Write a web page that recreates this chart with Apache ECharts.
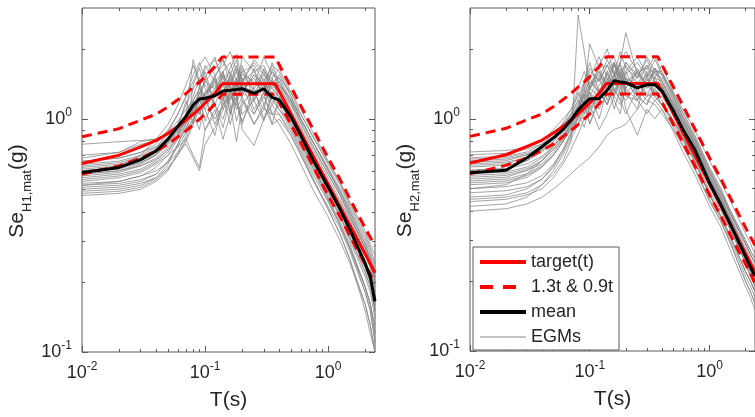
<!DOCTYPE html>
<html><head><meta charset="utf-8">
<script src="https://cdn.jsdelivr.net/npm/echarts@6/dist/echarts.min.js"></script>
<style>html,body{margin:0;padding:0;background:#fff}#c{width:755px;height:417px}</style>
</head><body><div id="c"></div><script>
// ---------- data ----------
const periods = [0.01,0.02,0.03,0.04,0.05,0.06,0.07,0.08,0.09,0.1,0.12,0.14,0.16,0.18,0.2,0.25,0.3,0.35,0.4,0.5,0.6,0.75,1.0,1.25,1.5,2.0,2.2,2.4];
const targetPeriods = [0.01,0.02,0.03,0.04,0.05,0.06,0.07,0.08,0.09,0.1,0.12,0.138,0.37,0.45,0.5,0.6,0.75,1.0,1.25,1.5,2.0,2.4];
const target = [0.645,0.70,0.76,0.81,0.87,0.93,0.99,1.05,1.11,1.17,1.29,1.42,1.42,1.17,1.05,0.875,0.70,0.525,0.42,0.35,0.263,0.219];
const upper  = [0.84,0.91,0.99,1.05,1.13,1.21,1.29,1.37,1.44,1.52,1.68,1.85,1.85,1.52,1.37,1.14,0.91,0.68,0.55,0.455,0.34,0.285];
const lower  = [0.58,0.63,0.68,0.73,0.78,0.84,0.89,0.945,1.0,1.05,1.16,1.28,1.28,1.05,0.945,0.79,0.63,0.47,0.38,0.315,0.237,0.197];
const meanH1 = [0.59,0.62,0.67,0.73,0.82,0.93,1.03,1.15,1.22,1.23,1.26,1.32,1.33,1.34,1.35,1.29,1.35,1.24,1.21,1.02,0.85,0.67,0.51,0.41,0.335,0.24,0.21,0.165];
const meanH2 = [0.585,0.60,0.68,0.76,0.83,0.90,0.99,1.09,1.16,1.22,1.22,1.33,1.46,1.44,1.43,1.36,1.40,1.40,1.32,1.08,0.90,0.74,0.53,0.425,0.35,0.255,0.23,0.21];
const egmH1 = [
 [0.62,0.64,0.68,0.75,0.88,1.05,1.25,1.55,1.75,1.50,1.85,1.40,1.65,1.90,1.45,1.75,1.55,1.40,1.45,1.15,0.92,0.74,0.56,0.45,0.37,0.27,0.23,0.19],
 [0.55,0.57,0.60,0.65,0.72,0.85,1.05,1.80,1.40,1.10,1.30,1.60,1.05,1.50,1.25,1.65,1.15,1.45,1.30,1.00,0.82,0.64,0.46,0.36,0.29,0.19,0.16,0.12],
 [0.70,0.72,0.78,0.80,0.88,0.98,1.10,1.20,1.35,1.70,1.45,1.20,1.55,1.80,1.30,1.20,1.65,1.35,1.55,1.25,1.00,0.80,0.60,0.49,0.40,0.29,0.25,0.21],
 [0.50,0.51,0.53,0.56,0.62,0.70,0.80,0.95,1.10,1.25,0.95,1.15,1.40,0.98,1.20,1.05,1.30,0.95,1.00,0.85,0.70,0.55,0.41,0.32,0.25,0.16,0.13,0.10],
 [0.58,0.60,0.64,0.70,0.80,0.92,1.20,0.95,1.40,1.60,1.15,1.45,1.05,1.35,1.60,1.30,1.10,1.50,1.20,0.95,0.78,0.62,0.47,0.38,0.31,0.22,0.19,0.15],
 [0.64,0.66,0.70,0.76,0.85,0.95,1.00,1.10,1.20,1.10,0.85,1.20,1.50,1.25,0.95,1.40,1.60,1.25,1.15,1.05,0.88,0.70,0.54,0.44,0.36,0.26,0.23,0.18],
 [0.52,0.53,0.55,0.58,0.66,0.78,0.92,1.05,0.90,1.25,1.55,1.10,1.30,1.50,1.70,1.20,1.45,1.05,1.05,0.85,0.70,0.55,0.42,0.34,0.27,0.18,0.15,0.11],
 [0.47,0.48,0.50,0.54,0.60,0.72,0.85,1.40,1.65,1.35,1.15,0.92,1.25,1.15,0.98,1.25,1.40,1.15,1.35,1.15,1.00,0.80,0.62,0.50,0.41,0.30,0.26,0.22],
 [0.60,0.62,0.66,0.72,0.80,0.88,0.98,1.12,1.30,1.45,1.65,1.80,1.40,1.60,1.30,1.55,1.35,1.75,1.40,1.10,0.88,0.68,0.51,0.41,0.33,0.23,0.20,0.16],
 [0.66,0.68,0.72,0.78,0.90,1.05,1.25,1.45,1.70,1.85,1.55,1.70,1.95,1.60,1.45,1.80,1.60,1.50,1.65,1.30,1.05,0.84,0.64,0.52,0.42,0.31,0.27,0.23],
 [0.54,0.56,0.59,0.64,0.70,0.76,0.82,0.70,0.62,0.90,1.10,0.82,1.05,1.25,0.90,0.77,1.00,1.15,1.05,0.88,0.72,0.56,0.41,0.32,0.25,0.15,0.12,0.10],
 [0.57,0.59,0.63,0.68,0.76,0.86,1.00,1.20,1.05,1.30,1.40,1.60,1.25,1.20,1.50,1.10,1.30,1.65,1.35,1.05,0.85,0.66,0.49,0.38,0.30,0.21,0.18,0.14],
 [0.49,0.50,0.52,0.56,0.64,0.78,0.95,1.10,1.25,0.98,1.25,1.40,1.15,0.80,1.15,1.35,1.00,1.25,1.10,0.95,0.80,0.64,0.48,0.39,0.31,0.22,0.19,0.15],
 [0.61,0.63,0.70,0.82,0.95,1.15,1.40,1.70,1.45,1.20,1.50,1.80,1.55,1.30,1.65,1.40,1.85,1.55,1.50,1.20,0.95,0.76,0.58,0.47,0.38,0.28,0.24,0.20],
 [0.53,0.54,0.57,0.60,0.65,0.72,0.78,0.68,0.60,0.78,0.92,1.10,1.30,1.15,1.40,1.05,1.25,1.05,1.15,0.92,0.76,0.60,0.45,0.35,0.28,0.19,0.16,0.12],
 [0.68,0.72,0.80,0.82,0.86,0.90,0.98,1.08,1.20,1.30,1.45,1.60,1.75,1.45,1.60,1.70,1.45,1.70,1.60,1.25,1.00,0.80,0.61,0.49,0.40,0.29,0.25,0.21],
 [0.51,0.52,0.54,0.58,0.66,0.76,0.88,1.00,1.20,1.50,1.15,1.00,1.30,1.45,1.20,0.95,1.15,0.95,1.25,0.98,0.80,0.62,0.45,0.35,0.28,0.18,0.15,0.11],
 [0.78,0.80,0.81,0.82,0.86,0.94,1.02,1.08,1.20,1.30,1.40,1.25,1.45,1.70,1.35,1.50,1.30,1.45,1.40,1.18,0.97,0.77,0.58,0.47,0.38,0.28,0.24,0.20],
 [0.56,0.58,0.61,0.66,0.74,0.82,0.90,1.00,1.10,0.90,1.05,1.25,0.95,1.20,1.05,1.20,0.98,1.30,1.20,0.98,0.84,0.68,0.52,0.42,0.34,0.23,0.20,0.15],
 [0.63,0.65,0.69,0.74,0.82,0.95,1.15,1.35,1.50,1.65,1.80,1.50,1.60,1.35,1.85,1.60,1.70,1.40,1.30,1.05,0.86,0.68,0.52,0.42,0.34,0.24,0.21,0.17],
 [0.58,0.60,0.63,0.67,0.74,0.84,0.98,1.15,1.30,1.20,1.35,1.55,1.40,1.65,1.50,1.35,1.55,1.45,1.50,1.30,1.10,0.88,0.66,0.54,0.44,0.33,0.29,0.26],
 [0.60,0.62,0.65,0.70,0.78,0.88,1.00,1.15,1.05,1.20,1.00,1.15,1.30,1.10,1.25,0.95,1.10,1.05,0.95,0.78,0.64,0.50,0.38,0.30,0.24,0.16,0.13,0.10],
 [0.52,0.54,0.57,0.62,0.70,0.82,0.96,1.12,1.28,1.45,1.35,1.50,1.20,1.40,1.55,1.45,1.30,1.60,1.45,1.20,1.00,0.80,0.60,0.48,0.39,0.28,0.25,0.21],
 [0.66,0.68,0.72,0.76,0.82,0.90,1.02,1.20,1.35,1.25,1.45,1.30,1.55,1.40,1.30,1.55,1.40,1.35,1.25,1.02,0.84,0.66,0.50,0.40,0.32,0.23,0.20,0.16],
 [0.48,0.49,0.51,0.55,0.61,0.70,0.82,0.98,1.15,1.30,1.50,1.25,1.40,1.25,1.45,1.60,1.40,1.30,1.40,1.22,1.05,0.85,0.65,0.53,0.43,0.32,0.28,0.24],
 [0.59,0.61,0.65,0.71,0.79,0.90,1.05,1.25,1.50,1.40,1.25,1.55,1.35,1.20,1.40,1.30,1.50,1.20,1.10,0.90,0.74,0.58,0.44,0.35,0.28,0.19,0.16,0.13]
];
const egmH2 = [
 [0.72,0.73,0.75,0.80,0.90,1.00,1.10,1.25,1.45,1.65,1.45,1.70,1.85,1.55,1.75,1.50,1.85,1.60,1.60,1.25,1.02,0.83,0.59,0.47,0.39,0.29,0.26,0.24],
 [0.45,0.46,0.48,0.52,0.58,0.66,0.80,2.80,1.95,1.35,1.25,1.60,1.30,1.55,1.25,1.20,1.50,1.25,1.15,0.95,0.80,0.66,0.47,0.38,0.31,0.22,0.20,0.18],
 [0.62,0.63,0.66,0.72,0.80,0.90,1.00,1.10,1.30,2.10,1.65,1.40,1.75,1.50,1.40,1.65,1.35,1.60,1.40,1.12,0.93,0.76,0.55,0.44,0.36,0.27,0.24,0.22],
 [0.40,0.41,0.43,0.46,0.50,0.54,0.58,0.62,0.65,0.68,0.76,0.85,0.90,0.92,0.95,1.10,1.25,1.30,1.15,0.98,0.84,0.68,0.49,0.40,0.33,0.24,0.21,0.19],
 [0.55,0.56,0.60,0.66,0.74,0.82,0.95,1.05,1.15,1.30,1.00,1.35,1.55,1.75,2.35,1.55,1.40,1.65,1.45,1.15,0.95,0.77,0.55,0.44,0.36,0.26,0.23,0.21],
 [0.68,0.69,0.72,0.78,0.86,0.95,1.05,1.20,1.05,1.35,1.60,1.30,1.70,1.45,1.60,1.85,1.55,1.50,1.70,1.30,1.05,0.84,0.62,0.50,0.40,0.30,0.27,0.25],
 [0.50,0.51,0.53,0.57,0.64,0.74,0.86,1.00,1.20,0.95,1.25,1.50,1.20,1.05,1.45,1.25,1.15,1.35,1.20,0.98,0.82,0.66,0.47,0.38,0.31,0.22,0.20,0.18],
 [0.58,0.59,0.62,0.68,0.76,0.85,0.92,1.00,1.10,1.25,1.50,1.20,1.50,1.75,1.30,1.10,1.55,1.30,1.30,1.08,0.90,0.74,0.53,0.42,0.35,0.25,0.22,0.20],
 [0.48,0.49,0.51,0.55,0.62,0.72,0.85,1.05,1.45,1.75,1.30,1.15,1.40,1.65,1.30,1.45,1.25,1.50,1.35,1.10,0.92,0.75,0.54,0.43,0.35,0.25,0.22,0.20],
 [0.65,0.66,0.70,0.76,0.84,0.92,1.05,1.30,1.15,0.95,1.20,1.45,1.75,1.35,1.55,1.75,1.50,1.80,1.55,1.22,1.00,0.81,0.58,0.46,0.38,0.28,0.25,0.23],
 [0.52,0.53,0.56,0.62,0.70,0.80,0.90,0.95,1.05,1.15,0.90,1.05,1.25,1.45,1.10,0.85,1.10,1.00,1.10,0.92,0.77,0.62,0.45,0.36,0.29,0.20,0.18,0.16],
 [0.60,0.61,0.66,0.74,0.84,0.96,1.10,1.35,1.60,1.35,1.50,1.80,1.55,1.95,1.65,1.50,1.80,1.50,1.45,1.15,0.95,0.78,0.56,0.45,0.37,0.27,0.24,0.22],
 [0.44,0.45,0.47,0.50,0.56,0.64,0.74,0.86,1.00,1.10,1.35,1.15,1.35,1.20,1.05,1.35,1.20,1.15,1.05,0.90,0.76,0.61,0.44,0.36,0.29,0.20,0.18,0.16],
 [0.70,0.71,0.74,0.78,0.84,0.90,0.98,1.08,1.20,1.40,1.65,1.70,1.45,1.75,1.95,1.60,1.65,1.85,1.60,1.25,1.02,0.82,0.60,0.48,0.39,0.29,0.26,0.24],
 [0.56,0.57,0.60,0.64,0.72,0.82,0.96,1.10,1.25,1.50,1.85,1.50,1.35,1.20,1.50,1.30,1.60,1.40,1.35,1.10,0.90,0.72,0.52,0.42,0.34,0.25,0.22,0.20],
 [0.50,0.52,0.58,0.66,0.76,0.86,0.96,1.05,0.92,1.15,1.30,1.45,1.10,1.35,1.50,1.20,1.40,1.25,1.15,0.98,0.82,0.66,0.48,0.38,0.31,0.22,0.20,0.18],
 [0.63,0.64,0.68,0.74,0.82,0.92,1.02,1.15,1.35,1.50,1.30,1.60,1.75,1.50,1.35,1.60,1.45,1.60,1.55,1.28,1.07,0.86,0.61,0.49,0.40,0.30,0.27,0.25],
 [0.42,0.43,0.46,0.52,0.60,0.70,0.82,0.95,1.10,1.30,1.10,1.30,1.55,1.30,1.20,1.40,1.30,1.20,1.25,1.05,0.88,0.72,0.52,0.41,0.34,0.24,0.21,0.19],
 [0.66,0.67,0.70,0.75,0.82,0.90,1.00,1.10,1.20,1.35,1.70,2.00,1.55,1.40,1.70,1.40,1.70,1.45,1.40,1.12,0.92,0.75,0.54,0.43,0.35,0.26,0.23,0.21],
 [0.54,0.55,0.58,0.63,0.70,0.80,0.92,1.10,1.25,1.05,1.30,1.15,1.45,1.25,1.60,1.25,1.15,1.45,1.30,1.05,0.88,0.72,0.51,0.41,0.33,0.24,0.21,0.19],
 [0.60,0.61,0.64,0.69,0.77,0.88,1.00,1.15,1.30,1.45,1.30,1.55,1.40,1.60,1.45,1.55,1.40,1.65,1.55,1.30,1.10,0.90,0.66,0.53,0.44,0.32,0.29,0.26],
 [0.53,0.54,0.57,0.62,0.70,0.80,0.92,1.05,1.20,1.10,1.25,1.40,1.25,1.15,1.35,1.20,1.05,1.20,1.10,0.88,0.72,0.58,0.42,0.34,0.27,0.19,0.17,0.15],
 [0.67,0.68,0.71,0.76,0.83,0.92,1.04,1.20,1.40,1.60,1.45,1.70,1.60,1.50,1.75,1.55,1.70,1.55,1.50,1.20,0.98,0.79,0.57,0.46,0.37,0.27,0.24,0.22],
 [0.46,0.47,0.50,0.55,0.63,0.74,0.88,1.02,1.15,1.35,1.55,1.35,1.25,1.50,1.35,1.60,1.40,1.30,1.35,1.15,0.98,0.80,0.59,0.48,0.39,0.29,0.26,0.24],
 [0.57,0.58,0.61,0.66,0.74,0.84,0.97,1.12,1.28,1.20,1.40,1.55,1.70,1.55,1.40,1.50,1.65,1.45,1.40,1.05,0.84,0.66,0.47,0.37,0.30,0.21,0.19,0.17],
 [0.64,0.65,0.68,0.73,0.80,0.89,1.00,1.12,1.25,1.40,1.60,1.40,1.55,1.70,1.50,1.40,1.55,1.65,1.45,1.18,0.97,0.78,0.56,0.45,0.37,0.27,0.24,0.22]
];
const xMajorTicks = [0.01, 0.1, 1];
const xMinorTicks = [0.02,0.03,0.04,0.05,0.06,0.07,0.08,0.09,0.2,0.3,0.4,0.5,0.6,0.7,0.8,0.9,2];
const yMajorTicks = [0.1, 1];
const yMinorTicks = [0.2,0.3,0.4,0.5,0.6,0.7,0.8,0.9,2];
const panelNames = ['{m|Se}{u|H1,mat}{m|(g)}{p| }', '{m|Se}{u|H2,mat}{m|(g)}{p| }'];
const legendNames = ['target(t)', '1.3t & 0.9t', 'mean', 'EGMs'];

// ---------- styling / layout ----------
const FONT = 'Liberation Sans';
const AX = '#5a5a5a';
const TXT = '#262626';
const X_MIN = 0.01, X_MAX = 2.4, Y_MIN = 0.1, Y_MAX = 3;
const grids = [
  {left: 82, top: 8, width: 293, height: 344},
  {left: 470, top: 8, width: 290, height: 343}
];
grids.forEach(g => { g.show = true; g.borderColor = AX; g.borderWidth = 1; g.backgroundColor = '#fff'; });

function expLabel(v) { return '{b|10}{s|' + Math.round(Math.log10(v)) + '}'; }
const labelRich = {
  b: {fontSize: 18, fontFamily: FONT, color: TXT, width: 20},
  s: {fontSize: 12, fontFamily: FONT, color: TXT, padding: [0, 0, 13, 0]}
};

const xAxes = [], yAxes = [];
function axisBase(gi, pos, ticks, len, min, max) {
  return {
    type: 'log', logBase: 10, gridIndex: gi, position: pos, min: min, max: max,
    axisLine: {show: false}, splitLine: {show: false},
    axisTick: {show: true, inside: true, length: len, customValues: ticks, lineStyle: {color: AX, width: 1}},
    axisLabel: {show: false}
  };
}
grids.forEach((g, gi) => {
  const xb = axisBase(gi, 'bottom', xMajorTicks, 6, X_MIN, X_MAX);
  xb.axisLabel = {show: true, customValues: xMajorTicks, formatter: expLabel, margin: 9, rich: labelRich, fontFamily: FONT, fontSize: 18, color: TXT};
  xb.name = 'T(s)'; xb.nameLocation = 'middle'; xb.nameGap = 38;
  xb.nameTextStyle = {fontSize: 21, fontFamily: FONT, color: TXT};
  xAxes.push(xb);
  xAxes.push(axisBase(gi, 'bottom', xMinorTicks, 3, X_MIN, X_MAX));
  xAxes.push(axisBase(gi, 'top', xMajorTicks, 6, X_MIN, X_MAX));
  xAxes.push(axisBase(gi, 'top', xMinorTicks, 3, X_MIN, X_MAX));

  const yl = axisBase(gi, 'left', yMajorTicks, 6, Y_MIN, Y_MAX);
  yl.axisLabel = {show: true, customValues: yMajorTicks, formatter: expLabel, margin: 10, rich: labelRich, fontFamily: FONT, fontSize: 18, color: TXT};
  yl.name = panelNames[gi]; yl.nameLocation = 'middle'; yl.nameGap = 48; yl.nameRotate = 90;
  yl.nameTextStyle = {fontFamily: FONT, fontSize: 21, color: TXT, rich: {
    m: {fontSize: 21, fontFamily: FONT, color: TXT},
    u: {fontSize: 13, fontFamily: FONT, color: TXT, width: 42, padding: [20, 0, 0, 0]},
    p: {fontSize: 13, fontFamily: FONT, width: 22}
  }};
  yAxes.push(yl);
  yAxes.push(axisBase(gi, 'left', yMinorTicks, 3, Y_MIN, Y_MAX));
  yAxes.push(axisBase(gi, 'right', yMajorTicks, 6, Y_MIN, Y_MAX));
  yAxes.push(axisBase(gi, 'right', yMinorTicks, 3, Y_MIN, Y_MAX));
});

function pairs(xs, ys) { return ys.map((v, i) => [xs[i], v]); }
function lineSeries(name, gi, xs, ys, color, width, type, z) {
  return {
    type: 'line', name: name, xAxisIndex: gi * 4, yAxisIndex: gi * 4,
    data: pairs(xs, ys), symbol: 'none', showSymbol: false, silent: true, z: z,
    lineStyle: {color: color, width: width, type: type},
    itemStyle: {color: color}, emphasis: {disabled: true}
  };
}
const series = [];
[egmH1, egmH2].forEach((set, gi) => {
  set.forEach(rec => series.push(lineSeries('EGMs', gi, periods, rec, '#858585', 0.75, 'solid', 2)));
});
[0, 1].forEach(gi => {
  series.push(lineSeries('1.3t & 0.9t', gi, targetPeriods, upper, '#ff0000', 3, [10, 6], 3));
  series.push(lineSeries('1.3t & 0.9t', gi, targetPeriods, lower, '#ff0000', 3, [10, 6], 3));
  series.push(lineSeries('target(t)', gi, targetPeriods, target, '#ff0000', 3, 'solid', 4));
  series.push(lineSeries('mean', gi, periods, gi === 0 ? meanH1 : meanH2, '#000000', 3, 'solid', 5));
});

const legendLines = [
  {width: 4},
  {width: 4, type: [13, 10]},
  {width: 4},
  {width: 1}
];
const chart = echarts.init(document.getElementById('c'), null, {renderer: 'canvas'});
chart.setOption({
  animation: false,
  backgroundColor: '#ffffff',
  textStyle: {fontFamily: FONT},
  grid: grids,
  xAxis: xAxes,
  yAxis: yAxes,
  legend: {
    orient: 'vertical', left: 473, top: 247,
    data: legendNames.map((n, i) => ({name: n, lineStyle: legendLines[i]})),
    itemWidth: 46, itemHeight: 14, itemGap: 7, padding: [6, 6, 4, 5],
    backgroundColor: '#fff', borderColor: AX, borderWidth: 1, borderRadius: 0,
    selectedMode: false, z: 20,
    itemStyle: {opacity: 0},
    textStyle: {fontSize: 18, fontFamily: FONT, color: TXT}
  },
  series: series
});
</script></body></html>
